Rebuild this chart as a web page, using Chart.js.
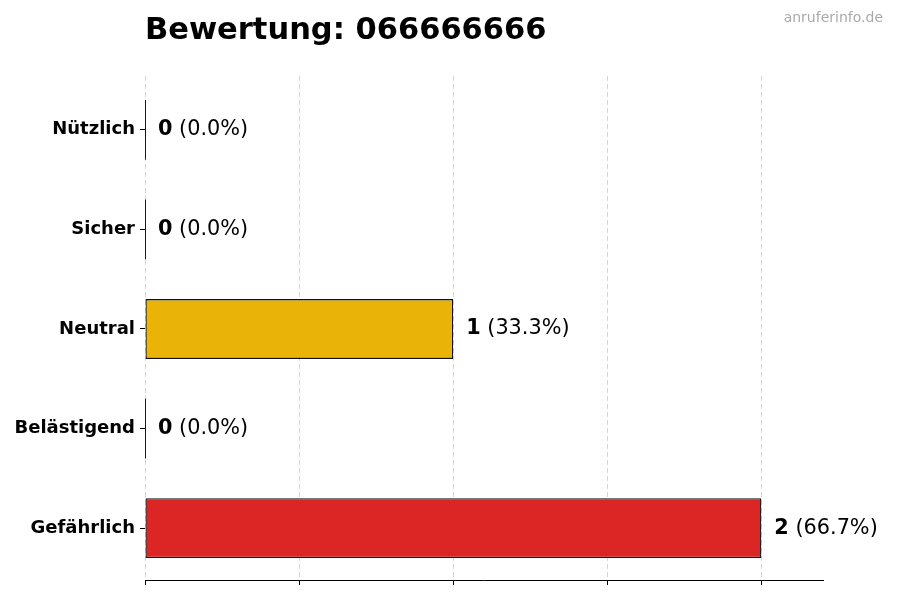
<!DOCTYPE html>
<html lang="de">
<head>
    <meta charset="UTF-8">
    <title>Bewertung: 066666666</title>
    <style>
        html, body {
            margin: 0;
            padding: 0;
            background: #fff;
        }
        #wrap {
            width: 900px;
            height: 600px;
        }
    </style>
</head>
<body>
    <div id="wrap"><canvas id="ratingChart" width="900" height="600"></canvas></div>
    <script src="https://cdn.jsdelivr.net/npm/chart.js"></script>
    <script>
        // chart data
        const categories = ['Nützlich', 'Sicher', 'Neutral', 'Belästigend', 'Gefährlich'];
        const counts = [0, 0, 1, 0, 2];
        const barColors = ['#22c55e', '#3b82f6', '#eab308', '#f97316', '#dc2626'];
        const xTicks = [0, 0.5, 1, 1.5, 2];
        const titleText = 'Bewertung: 066666666';
        const sourceText = 'anruferinfo.de';

        const total = counts.reduce((a, b) => a + b, 0);
        const FONT = '"DejaVu Sans", sans-serif';

        // title + watermark
        const headerPlugin = {
            id: 'header',
            afterDraw(chart) {
                const ctx = chart.ctx;
                ctx.save();
                ctx.fillStyle = '#000';
                ctx.font = 'bold 30.5px ' + FONT;
                ctx.textAlign = 'left';
                ctx.textBaseline = 'alphabetic';
                ctx.fillText(titleText, chart.chartArea.left, 39);
                ctx.fillStyle = '#aaaaaa';
                ctx.font = '14px ' + FONT;
                ctx.textAlign = 'right';
                ctx.fillText(sourceText, 883, 22);
                ctx.restore();
            }
        };

        // thin line for empty bars + value labels
        const valuePlugin = {
            id: 'values',
            afterDatasetsDraw(chart) {
                const ctx = chart.ctx;
                const meta = chart.getDatasetMeta(0);
                ctx.save();
                meta.data.forEach((bar, i) => {
                    const v = counts[i];
                    const half = bar.height / 2;
                    if (v === 0) {
                        ctx.strokeStyle = '#1a1a1a';
                        ctx.lineWidth = 1;
                        ctx.beginPath();
                        ctx.moveTo(bar.x + 0.5, bar.y - half);
                        ctx.lineTo(bar.x + 0.5, bar.y + half);
                        ctx.stroke();
                    }
                    const pct = total ? (v / total * 100).toFixed(1) : '0.0';
                    let x = bar.x + 13;
                    ctx.textBaseline = 'middle';
                    ctx.textAlign = 'left';
                    ctx.fillStyle = '#000';
                    ctx.font = 'bold 20.8px ' + FONT;
                    const s1 = String(v);
                    ctx.fillText(s1, x, bar.y);
                    x += ctx.measureText(s1).width;
                    ctx.font = '20.8px ' + FONT;
                    ctx.fillText(' (' + pct + '%)', x, bar.y);
                });
                ctx.restore();
            }
        };

        const ctx = document.getElementById('ratingChart').getContext('2d');
        new Chart(ctx, {
            type: 'bar',
            data: {
                datasets: [{
                    data: categories.map((c, i) => ({ x: counts[i], y: i })),
                    backgroundColor: barColors,
                    borderColor: '#111111',
                    borderWidth: 1.3,
                    borderSkipped: false,
                    categoryPercentage: 1,
                    barPercentage: 0.6
                }]
            },
            options: {
                indexAxis: 'y',
                responsive: false,
                animation: false,
                devicePixelRatio: 1,
                layout: {
                    padding: { top: 76, right: 77, bottom: 0, left: 0 }
                },
                plugins: {
                    legend: { display: false },
                    tooltip: { enabled: false },
                    title: { display: false }
                },
                scales: {
                    x: {
                        type: 'linear',
                        position: 'bottom',
                        min: 0,
                        max: 2.2,
                        z: 1,
                        afterFit(scale) { scale.height = 20; },
                        afterBuildTicks(scale) {
                            scale.ticks = xTicks.map(v => ({ value: v }));
                        },
                        ticks: { display: false },
                        border: { display: true, color: '#000', width: 1, dash: [5, 3] },
                        grid: {
                            color: 'rgba(170,170,170,0.5)',
                            lineWidth: 1,
                            drawTicks: true,
                            tickLength: 5,
                            tickColor: '#000',
                            tickWidth: 1,
                            tickBorderDash: [1, 0]
                        }
                    },
                    y: {
                        type: 'linear',
                        reverse: true,
                        offset: false,
                        min: -0.54,
                        max: 4.52,
                        afterFit(scale) { scale.width = 145; },
                        afterBuildTicks(scale) {
                            scale.ticks = categories.map((c, i) => ({ value: i }));
                        },
                        border: { display: false },
                        grid: {
                            offset: false,
                            drawOnChartArea: false,
                            drawTicks: true,
                            tickLength: 5,
                            tickColor: '#000',
                            color: '#000'
                        },
                        ticks: {
                            padding: 5,
                            color: '#000',
                            font: { family: FONT, size: 18, weight: 'bold' },
                            callback: (v) => categories[v] !== undefined ? categories[v] : ''
                        }
                    }
                }
            },
            plugins: [headerPlugin, valuePlugin]
        });
    </script>
</body>
</html>
